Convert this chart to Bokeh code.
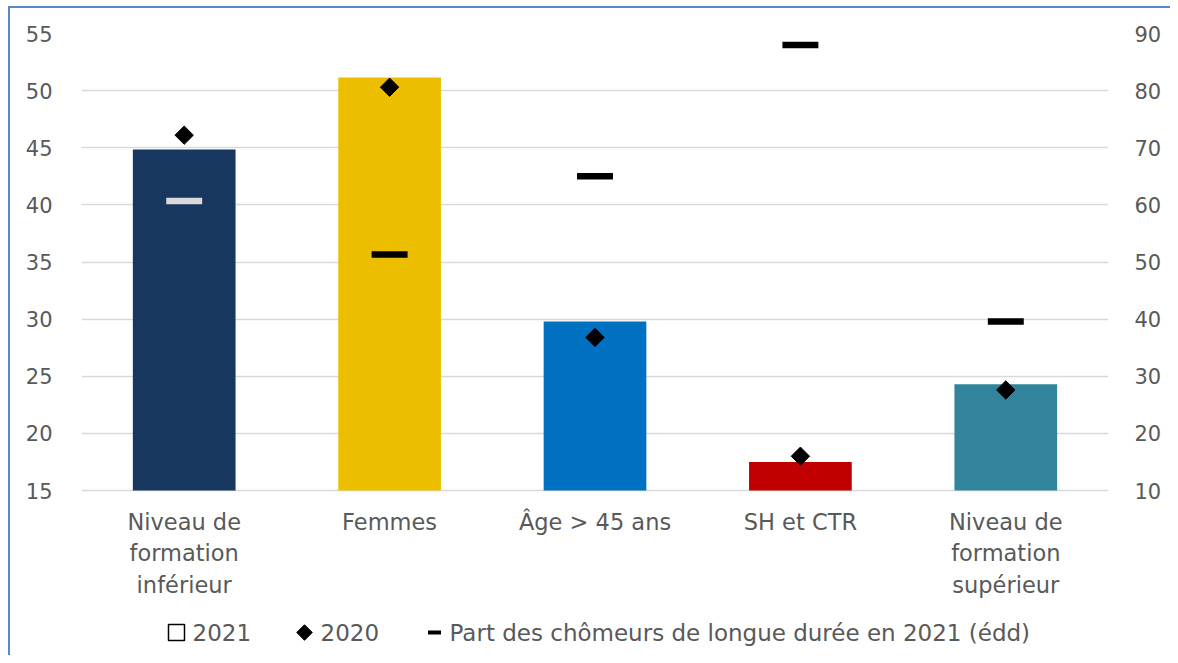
import math
from bokeh.plotting import figure
from bokeh.models import ColumnDataSource, Range1d, LinearAxis, FixedTicker
from bokeh.core.properties import value
from bokeh.embed import file_html
from bokeh.resources import INLINE

categories = ["Niveau de\nformation\ninférieur", "Femmes", "Âge > 45 ans",
              "SH et CTR", "Niveau de\nformation\nsupérieur"]
values_2021 = [44.85, 51.15, 29.8, 17.5, 24.3]
values_2020 = [46.1, 50.3, 28.4, 18.0, 23.8]
part_longue_duree = [60.7, 51.3, 65.0, 88.0, 39.6]
bar_colors = ["#17375e", "#ebbf00", "#0070c0", "#c00000", "#31849b"]
dash_colors = ["#d9d9d9", "#000000", "#000000", "#000000", "#000000"]
left_ticks = [15, 20, 25, 30, 35, 40, 45, 50, 55]
right_ticks = [10, 20, 30, 40, 50, 60, 70, 80, 90]
legend_labels = ["2021", "2020", "Part des chômeurs de longue durée en 2021 (édd)"]

FONT = "DejaVu Sans"
GREY = "#595959"

# layout (pixels)
W, H = 1170, 655
BL, BR, BT, BB = 81, 62, 33, 7
FW, FH = W - BL - BR, H - BT - BB
AXIS_PX = 457                       # pixel height of the 15..55 axis span
ppu = AXIS_PX / 40.0                # pixels per left unit
y_lo = 55 - FH / ppu
r_lo = 90 - FH / ppu * 2            # right axis: 2 units per left unit
n = len(categories)
xpos = [i + 0.5 for i in range(n)]  # category slots
px2x = n / FW                       # frame pixel -> x unit

p = figure(x_range=Range1d(0, n), y_range=Range1d(y_lo, 55), width=W, height=H,
           output_backend="svg", toolbar_location=None,
           min_border_left=BL, min_border_right=BR, min_border_top=BT,
           min_border_bottom=BB)
p.extra_y_ranges = {"right": Range1d(r_lo, 90), "py": Range1d(0, FH)}
p.outline_line_color = None
p.background_fill_color = "white"
p.border_fill_alpha = 0
# blue chart frame on the left and top edges (drawn as inset shadows, no layout impact)
p.styles = {"box-shadow": "inset 8px 6px 0 0 white, inset 10px 8px 0 0 #5b87c8",
            "background-color": "white"}
p.xaxis.visible = False

src = ColumnDataSource(dict(x=xpos, v21=values_2021, v20=values_2020,
                            part=part_longue_duree, bc=bar_colors, dc=dash_colors,
                            lab=categories))

p.vbar(x="x", top="v21", bottom=15, width=0.5, fill_color="bc", line_color=None, source=src)
p.rect(x="x", y="part", width=0.175, height=6.5, height_units="screen",
       fill_color="dc", line_color=None, y_range_name="right", source=src)
p.scatter(x="x", y="v20", marker="square", angle=math.pi / 4, size=13,
          fill_color="black", line_color="black", source=src)

# category labels below the baseline
p.text(x="x", y=15 - 18 / ppu, text="lab", source=src, text_align="center",
       text_baseline="top", text_font=value(FONT), text_font_size="22.5px",
       text_color=GREY, text_line_height=1.22)

# axes
p.yaxis.ticker = FixedTicker(ticks=left_ticks)
ax_r = LinearAxis(y_range_name="right", ticker=FixedTicker(ticks=right_ticks))
p.add_layout(ax_r, "right")
for ax in [p.yaxis[0], ax_r]:
    ax.axis_line_color = None
    ax.major_tick_line_color = None
    ax.minor_tick_line_color = None
    ax.major_label_text_font = FONT
    ax.major_label_text_font_size = "21px"
    ax.major_label_text_color = GREY
p.yaxis[0].major_label_standoff = 23
ax_r.major_label_standoff = 20

p.xgrid.grid_line_color = None
p.ygrid.grid_line_color = "#d9d9d9"
p.ygrid.grid_line_width = 1.5
p.ygrid.ticker = FixedTicker(ticks=left_ticks)

# legend (positions given in frame pixels)
ly = 16
p.rect(x=[95 * px2x], y=[ly], width=16, height=16, width_units="screen",
       height_units="screen", fill_color="white", line_color="black", line_width=1.5,
       y_range_name="py")
p.scatter(x=[223 * px2x], y=[ly], marker="square", angle=math.pi / 4, size=11,
          fill_color="black", line_color="black", y_range_name="py")
p.rect(x=[353 * px2x], y=[ly], width=13, height=4, width_units="screen",
       height_units="screen", fill_color="black", line_color=None, y_range_name="py")
p.text(x=[111 * px2x, 239 * px2x, 368 * px2x], y=[ly] * 3, text=legend_labels,
       text_baseline="middle", text_align="left", text_font=value(FONT),
       text_font_size="23px", text_color=GREY, y_range_name="py")

open("out.html", "w").write(file_html(p, INLINE))
